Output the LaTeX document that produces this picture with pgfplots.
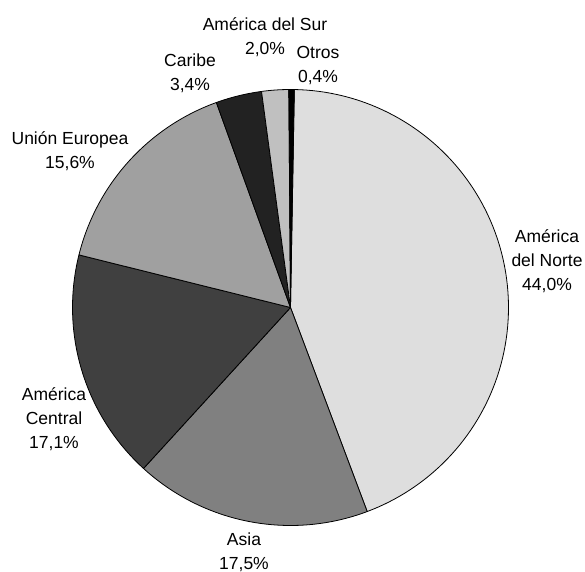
\documentclass[border=0pt]{standalone}
\usepackage{fontspec}
\setmainfont{Liberation Sans}
\usepackage{pgfplots}
\pgfplotsset{compat=1.18}
\definecolor{cNorte}{HTML}{DEDEDE}
\definecolor{cAsia}{HTML}{808080}
\definecolor{cCentral}{HTML}{404040}
\definecolor{cUE}{HTML}{A0A0A0}
\definecolor{cCaribe}{HTML}{222222}
\definecolor{cSur}{HTML}{C0C0C0}
\definecolor{cOtros}{HTML}{000000}
\tikzset{lbl/.style={font=\fontsize{17.5bp}{24bp}\selectfont, align=center, inner sep=0pt}}
\def\cx{290.5}
\def\cy{264.5}
\def\R{218}
\def\startang{89}
\newcommand\slice[3]{% #1 cumulative start (%), #2 share (%), #3 colour
  \pgfmathsetmacro\aS{\startang-3.6*(#1)}%
  \pgfmathsetmacro\aE{\startang-3.6*(#1+#2)}%
  \edef\temp{\noexpand\addplot[fill=#3,draw=black,line width=0.8pt,line join=round,domain=\aE:\aS,samples=100,variable=\noexpand\t] ({\cx+\R*cos(\noexpand\t)},{\cy+\R*sin(\noexpand\t)}) -- (axis cs:\cx,\cy) -- cycle;}%
  \temp
}
\begin{document}
\begin{tikzpicture}
\useasboundingbox (0,0) rectangle (585bp,572bp);
\begin{axis}[
  at={(0,0)}, anchor=south west,
  scale only axis, width=585bp, height=572bp,
  xmin=0, xmax=585, ymin=0, ymax=572,
  hide axis, clip=false,
]
% shares (%): Norte 44.0, Asia 17.5, Central 17.1, UE 15.6, Caribe 3.4, Sur 2.0, Otros 0.4
\slice{0}{44.0}{cNorte}
\slice{44.0}{17.5}{cAsia}
\slice{61.5}{17.1}{cCentral}
\slice{78.6}{15.6}{cUE}
\slice{94.2}{3.4}{cCaribe}
\slice{97.6}{2.0}{cSur}
\slice{99.6}{0.4}{cOtros}

\node[lbl] at (axis cs:547,310.5) {América\\del Norte\\44,0\%};
\node[lbl] at (axis cs:244,19.5) {Asia\\17,5\%};
\node[lbl] at (axis cs:54,152.5) {América\\Central\\17,1\%};
\node[lbl] at (axis cs:70,420.5) {Unión Europea\\15,6\%};
\node[lbl] at (axis cs:190,498.5) {Caribe\\3,4\%};
\node[lbl] at (axis cs:265,534.5) {América del Sur\\2,0\%};
\node[lbl] at (axis cs:318,506) {Otros\\0,4\%};
\end{axis}
\end{tikzpicture}
\end{document}
